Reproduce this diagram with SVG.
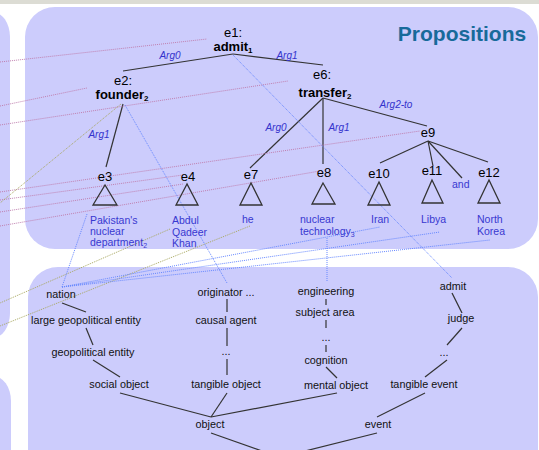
<svg xmlns="http://www.w3.org/2000/svg" width="539" height="450" viewBox="0 0 539 450">
<defs>
<style>
.panel{fill:#ccccfc;}
.t{font-family:"Liberation Sans",Arial,sans-serif;fill:#000;}
.n{font-size:13px;text-anchor:middle;}
.b{font-size:13px;font-weight:bold;text-anchor:middle;}
.arg{font-size:10px;font-style:italic;fill:#3333cc;text-anchor:middle;}
.lbl{font-size:10.5px;fill:#3838d0;}
.o{font-size:10.8px;text-anchor:middle;fill:#111;}
.edge{stroke:#333;stroke-width:1.2;fill:none;}
.tri{stroke:#333;stroke-width:1.3;fill:none;}
.pk{stroke:#c080b0;stroke-width:1;stroke-dasharray:1 1;fill:none;}
.bl{stroke:#6688ff;stroke-width:1;stroke-dasharray:1 1;fill:none;}
.ol{stroke:#a8a860;stroke-width:1;stroke-dasharray:1 1;fill:none;}
</style>
</defs>
<rect x="0" y="0" width="539" height="450" fill="#ffffff"/>
<rect x="0" y="0" width="539" height="4" fill="#dcdcd4"/>
<rect class="panel" x="-25" y="12" width="35" height="326" rx="25"/>
<rect class="panel" x="-25" y="376" width="36" height="110" rx="25"/>
<rect class="panel" x="25" y="7" width="513" height="242" rx="30"/>
<rect class="panel" x="28" y="267" width="510" height="220" rx="30"/>
<text class="t" x="462" y="41" font-size="21" font-weight="bold" text-anchor="middle" style="fill:#186a9a">Propositions</text>

<g id="connectors">
<line class="edge" x1="233" y1="54" x2="123" y2="71"/>
<line class="edge" x1="233" y1="54" x2="323" y2="65"/>
<line class="edge" x1="123" y1="104" x2="106" y2="167"/>
<line class="edge" x1="323" y1="98" x2="250" y2="168"/>
<line class="edge" x1="323" y1="98" x2="323" y2="164"/>
<line class="edge" x1="323" y1="98" x2="427" y2="126"/>
<line class="edge" x1="428" y1="141" x2="380" y2="163"/>
<line class="edge" x1="428" y1="141" x2="433" y2="166"/>
<line class="edge" x1="428" y1="141" x2="462" y2="178"/>
<line class="edge" x1="428" y1="141" x2="488" y2="162"/>
<line class="edge" x1="62" y1="303" x2="86" y2="312"/>
<line class="edge" x1="86" y1="328" x2="93" y2="345"/>
<line class="edge" x1="93" y1="360" x2="120" y2="377"/>
<line class="edge" x1="120" y1="393" x2="211" y2="417"/>
<line class="edge" x1="227" y1="393" x2="211" y2="417"/>
<line class="edge" x1="337" y1="393" x2="211" y2="417"/>
<line class="edge" x1="227" y1="299" x2="227" y2="312"/>
<line class="edge" x1="227" y1="328" x2="227" y2="346"/>
<line class="edge" x1="227" y1="359" x2="227" y2="375"/>
<line class="edge" x1="211" y1="433" x2="262" y2="451"/>
<line class="edge" x1="326" y1="299" x2="326" y2="305"/>
<line class="edge" x1="326" y1="320" x2="326" y2="328"/>
<line class="edge" x1="326" y1="345" x2="326" y2="352"/>
<line class="edge" x1="326" y1="367" x2="337" y2="378"/>
<line class="edge" x1="452" y1="293" x2="462" y2="313"/>
<line class="edge" x1="462" y1="328" x2="447" y2="345"/>
<line class="edge" x1="447" y1="360" x2="425" y2="377"/>
<line class="edge" x1="425" y1="393" x2="377" y2="417"/>
<line class="edge" x1="377" y1="433" x2="305" y2="451"/>
<line class="pk" x1="0" y1="62" x2="207" y2="39"/>
<line class="pk" x1="0" y1="106" x2="87" y2="88"/>
<line class="pk" x1="0" y1="125" x2="288" y2="81"/>
<line class="pk" x1="0" y1="192" x2="420" y2="131"/>
<line class="pk" x1="0" y1="200" x2="183" y2="175"/>
<line class="pk" x1="0" y1="212" x2="183" y2="184"/>
<line class="pk" x1="0" y1="226" x2="320" y2="171"/>
<line class="ol" x1="121" y1="104" x2="0" y2="203"/>
<line class="ol" x1="170" y1="229" x2="0" y2="303"/>
<line class="ol" x1="250" y1="226" x2="0" y2="326"/>
<line class="bl" x1="125" y1="105" x2="227" y2="283"/>
<line class="bl" x1="233" y1="55" x2="452" y2="278"/>
<line class="bl" x1="87" y1="214" x2="62" y2="287"/>
<line class="bl" x1="62" y1="287" x2="380" y2="227"/>
<line class="bl" x1="62" y1="287" x2="440" y2="232"/>
<line class="bl" x1="62" y1="287" x2="490" y2="240"/>
<line class="bl" x1="327" y1="238" x2="327" y2="281"/>
</g>

<g id="arglabels">
<text class="t arg" x="170" y="59">Arg0</text>
<text class="t arg" x="287" y="59">Arg1</text>
<text class="t arg" x="99" y="138">Arg1</text>
<text class="t arg" x="276" y="131">Arg0</text>
<text class="t arg" x="339" y="131">Arg1</text>
<text class="t arg" x="396" y="108">Arg2-to</text>
</g>

<g id="e1"><text class="t n" x="233" y="37">e1:</text><text class="t b" x="233" y="51">admit<tspan font-size="8" dy="2">1</tspan></text></g>
<g id="e2"><text class="t n" x="123" y="85">e2:</text><text class="t b" x="122" y="99">founder<tspan font-size="8" dy="2">2</tspan></text></g>
<g id="e6"><text class="t n" x="322" y="79">e6:</text><text class="t b" x="325" y="97">transfer<tspan font-size="8" dy="2">2</tspan></text></g>
<g id="e9"><text class="t n" x="428" y="137">e9</text></g>
<g id="e3"><text class="t n" x="105" y="181">e3</text><polygon class="tri" points="105,185 93,205 117,205"/>
<text class="t lbl" x="90" y="224">Pakistan's</text><text class="t lbl" x="90" y="235">nuclear</text><text class="t lbl" x="90" y="246">department<tspan font-size="7" dy="2">2</tspan></text></g>
<g id="e4"><text class="t n" x="188" y="181">e4</text><polygon class="tri" points="187,184 176,205 198,205"/>
<text class="t lbl" x="172" y="224">Abdul</text><text class="t lbl" x="172" y="236">Qadeer</text><text class="t lbl" x="172" y="247">Khan</text></g>
<g id="e7"><text class="t n" x="251" y="179">e7</text><polygon class="tri" points="251,183 240,205 262,205"/>
<text class="t lbl" x="242" y="223">he</text></g>
<g id="e8"><text class="t n" x="324" y="177">e8</text><polygon class="tri" points="323,183 312,204 335,204"/>
<text class="t lbl" x="300" y="223">nuclear</text><text class="t lbl" x="300" y="235">technology<tspan font-size="7" dy="2">3</tspan></text></g>
<g id="e10"><text class="t n" x="379" y="178">e10</text><polygon class="tri" points="379,182 368,205 390,205"/>
<text class="t lbl" x="371" y="223">Iran</text></g>
<g id="e11"><text class="t n" x="432" y="175">e11</text><polygon class="tri" points="432,180 422,203 443,203"/>
<text class="t lbl" x="421" y="223">Libya</text></g>
<g id="and"><text class="t lbl" x="452" y="188">and</text></g>
<g id="e12"><text class="t n" x="489" y="177">e12</text><polygon class="tri" points="489,180 478,203 500,203"/>
<text class="t lbl" x="477" y="223">North</text><text class="t lbl" x="477" y="235">Korea</text></g>

<g id="onto">
<text class="t o" x="61" y="298">nation</text>
<text class="t o" x="86" y="324">large geopolitical entity</text>
<text class="t o" x="93" y="356">geopolitical entity</text>
<text class="t o" x="119" y="388">social object</text>
<text class="t o" x="226" y="296">originator ...</text>
<text class="t o" x="226" y="324">causal agent</text>
<text class="t o" x="226" y="355">...</text>
<text class="t o" x="226" y="388">tangible object</text>
<text class="t o" x="210" y="428">object</text>
<text class="t o" x="326" y="295">engineering</text>
<text class="t o" x="325" y="316">subject area</text>
<text class="t o" x="326" y="341">...</text>
<text class="t o" x="326" y="364">cognition</text>
<text class="t o" x="336" y="389">mental object</text>
<text class="t o" x="453" y="290">admit</text>
<text class="t o" x="461" y="322">judge</text>
<text class="t o" x="444" y="356">...</text>
<text class="t o" x="424" y="388">tangible event</text>
<text class="t o" x="378" y="428">event</text>
</g>
</svg>
